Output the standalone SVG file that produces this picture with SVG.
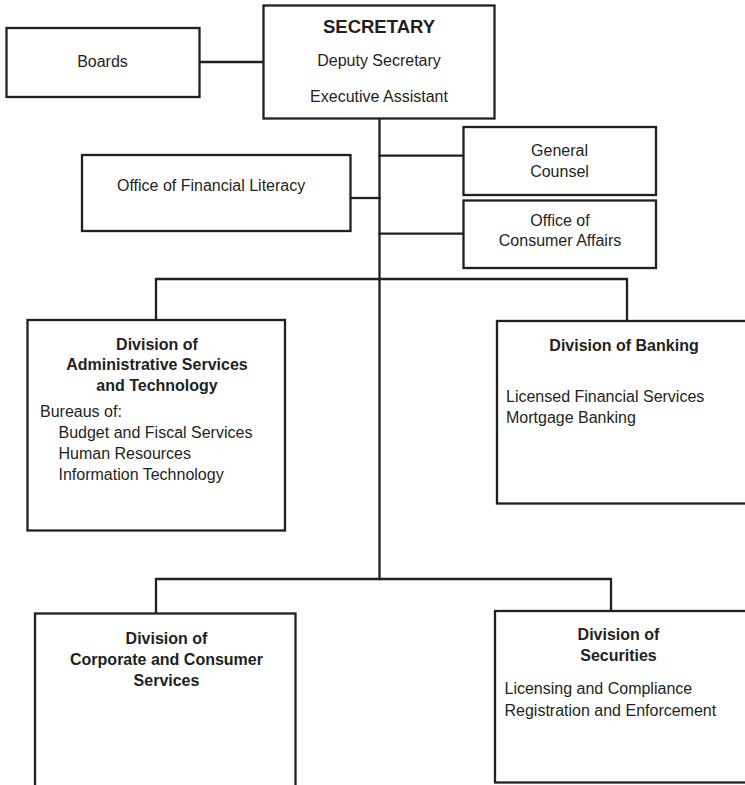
<svg xmlns="http://www.w3.org/2000/svg" width="745" height="785" viewBox="0 0 745 785">
<style>
  .box { fill: #ffffff; stroke: #231f20; stroke-width: 2.3; }
  .conn { fill: none; stroke: #231f20; stroke-width: 2.3; stroke-linecap: square; }
  text { font-family: "Liberation Sans", Arial, Helvetica, sans-serif; font-size: 16px; fill: #231f20; }
  .c { text-anchor: middle; }
  .b { font-weight: bold; }
  .title { font-weight: bold; font-size: 18.5px; }
</style>
<rect width="745" height="785" fill="#ffffff"/>
<g id="connectors">
  <line class="conn" x1="199.5" y1="62" x2="263.5" y2="62"/>
  <line class="conn" x1="379.5" y1="118.5" x2="379.5" y2="579"/>
  <line class="conn" x1="350.5" y1="198" x2="379.5" y2="198"/>
  <line class="conn" x1="379.5" y1="155.7" x2="463.5" y2="155.7"/>
  <line class="conn" x1="379.5" y1="233.7" x2="463.5" y2="233.7"/>
  <polyline class="conn" points="156,320 156,279 627,279 627,321"/>
  <polyline class="conn" points="156,613.5 156,579 611,579 611,611"/>
</g>
<g id="secretary">
  <rect class="box" x="263.5" y="5.5" width="231" height="113"/>
  <text class="c title" x="379" y="32.5">SECRETARY</text>
  <text class="c" x="379" y="65.5">Deputy Secretary</text>
  <text class="c" x="379" y="101.5">Executive Assistant</text>
</g>
<g id="boards">
  <rect class="box" x="6.5" y="28" width="193" height="69"/>
  <text class="c" x="102.5" y="67">Boards</text>
</g>
<g id="financial-literacy">
  <rect class="box" x="82" y="155" width="268.5" height="76"/>
  <text x="117" y="191">Office of Financial Literacy</text>
</g>
<g id="general-counsel">
  <rect class="box" x="463.5" y="127" width="192.5" height="68"/>
  <text class="c" x="559.5" y="156">General</text>
  <text class="c" x="559.5" y="177">Counsel</text>
</g>
<g id="consumer-affairs">
  <rect class="box" x="463.5" y="200.5" width="192.5" height="67.5"/>
  <text class="c" x="560" y="225.5">Office of</text>
  <text class="c" x="560" y="246">Consumer Affairs</text>
</g>
<g id="admin-services">
  <rect class="box" x="27.5" y="320" width="257.5" height="210.5"/>
  <text class="c b" x="157" y="349.5">Division of</text>
  <text class="c b" x="157" y="370">Administrative Services</text>
  <text class="c b" x="157" y="391">and Technology</text>
  <text x="40" y="416.5">Bureaus of:</text>
  <text x="58.5" y="437.5">Budget and Fiscal Services</text>
  <text x="58.5" y="459">Human Resources</text>
  <text x="58.5" y="480">Information Technology</text>
</g>
<g id="banking">
  <rect class="box" x="497" y="321" width="260" height="182.5"/>
  <text class="c b" x="624" y="350.5">Division of Banking</text>
  <text x="506" y="401.5">Licensed Financial Services</text>
  <text x="506" y="422.5">Mortgage Banking</text>
</g>
<g id="corporate-consumer">
  <rect class="box" x="35" y="613.5" width="260.5" height="200"/>
  <text class="c b" x="166.5" y="643.5">Division of</text>
  <text class="c b" x="166.5" y="665">Corporate and Consumer</text>
  <text class="c b" x="166.5" y="686">Services</text>
</g>
<g id="securities">
  <rect class="box" x="495" y="611" width="260" height="171.5"/>
  <text class="c b" x="618.5" y="640">Division of</text>
  <text class="c b" x="618.5" y="661">Securities</text>
  <text x="504.5" y="693.5">Licensing and Compliance</text>
  <text x="504.5" y="716">Registration and Enforcement</text>
</g>
</svg>
